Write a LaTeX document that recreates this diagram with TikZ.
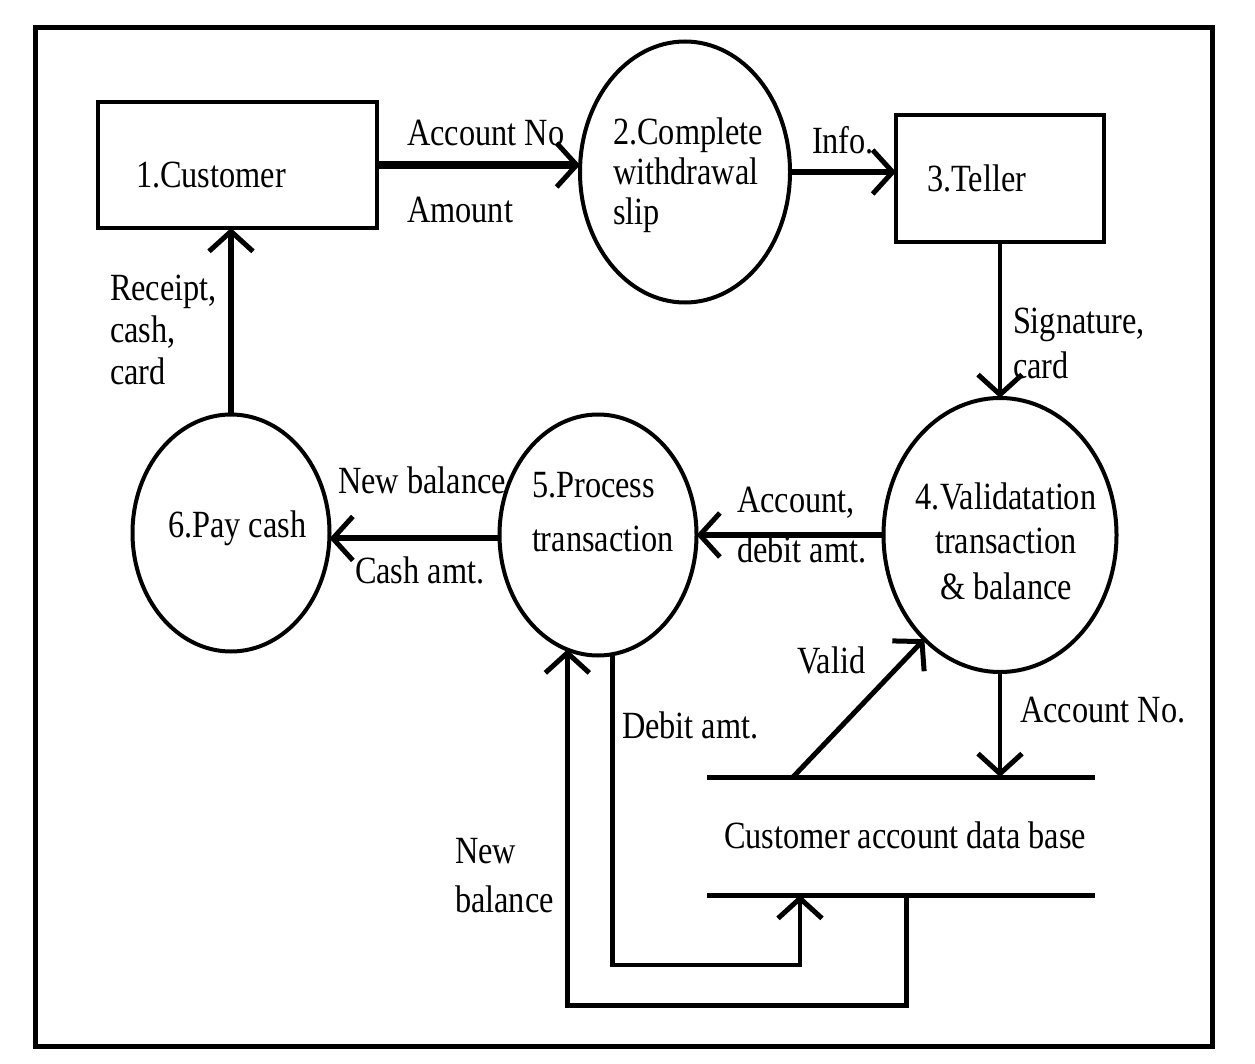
\documentclass[tikz,border=0pt]{standalone}
\usepackage{fontspec}
\setmainfont{Liberation Serif}[FakeStretch=0.84]
\usetikzlibrary{arrows.meta,shapes.geometric}
\begin{document}
\begin{tikzpicture}[x=1pt,y=-1pt,
  box/.style={draw, line width=4pt, rectangle, inner sep=0pt, outer sep=0pt},
  proc/.style={draw, line width=4pt, ellipse, inner sep=0pt, outer sep=0pt},
  txt/.style={inner sep=0pt, outer sep=0pt, font=\fontsize{38.5}{42}\selectfont},
  lbl/.style={txt, anchor=west, align=left},
  arr/.style={-{Straight Barb[length=20pt,width=44pt,line width=5pt]}},
  heavy/.style={arr, line width=8pt},
  thickflow/.style={arr, line width=6pt},
  medflow/.style={arr, line width=5pt},
  thinflow/.style={arr, line width=3.5pt},
  storeline/.style={line width=5pt}
]
\useasboundingbox (0,0) rectangle (1255,1064);
\fill[white] (0,0) rectangle (1255,1064);
% outer frame
\draw[line width=5pt] (35,28) rectangle (1212,1046);

% processes and entities
\node[box, minimum width=279pt, minimum height=126pt] (c1) at (237.5,165) {};
\node[proc, minimum width=210pt, minimum height=261pt] (p2) at (685,172) {};
\node[box, minimum width=208pt, minimum height=127pt] (t3) at (1000,178.5) {};
\node[proc, minimum width=233pt, minimum height=274pt] (p4) at (1000,535) {};
\node[proc, minimum width=197pt, minimum height=241pt] (p5) at (598,535) {};
\node[proc, minimum width=197pt, minimum height=237pt] (p6) at (231,533) {};

% data store
\coordinate (s1) at (707,777);
\coordinate (s2) at (1095,777);
\coordinate (s3) at (707,895);
\coordinate (s4) at (1095,895);
\draw[storeline] (s1) -- (s2);
\draw[storeline] (s3) -- (s4);

% texts inside shapes
\node[lbl] (t1) at (136,175) {1.Customer};
\node[lbl] (t2) at (613,175) {2.Complete\\[-2pt]withdrawal\\[-2pt]slip};
\node[lbl] (t3t) at (927,178) {3.Teller};
\node[txt, align=center] (t4) at (1006,541) {4.Validatation\\[2pt]transaction\\[4pt]\& balance};
\node[lbl] (t5) at (532,512) {5.Process\\[12pt]transaction};
\node[lbl] (t6) at (168,528) {6.Pay cash};
\node[txt] (tdb) at (905,835) {Customer account data base};

% flow labels
\node[lbl] (l1) at (407,133) {Account No};
\node[lbl] (l2) at (407,210) {Amount};
\node[lbl] (l3) at (812,140) {Info.};
\node[lbl] (l4) at (1013,343) {Signature,\\[3pt]card};
\node[lbl] (l5) at (110,330) {Receipt,\\cash,\\card};
\node[lbl] (l6) at (338,480) {New balance};
\node[lbl] (l7) at (355,570) {Cash amt.};
\node[lbl] (l8) at (737,525) {Account,\\[8pt]debit amt.};
\node[lbl] (l9) at (797,660) {Valid};
\node[lbl] (l10) at (1020,710) {Account No.};
\node[lbl] (l11) at (622,725) {Debit amt.};
\node[lbl] (l12) at (455,876) {New\\[7pt]balance};

% connectors
\draw[heavy] (c1.east) -- (c1.east -| p2.west);
\draw[thickflow] (p2.east) -- (p2.east -| t3.west);
\draw[thinflow] (t3.south) -- (p4.north);
\draw[thickflow] (p4.west) -- (p5.east);
\draw[thickflow] (p5.182) -- (p5.182 -| p6.east);
\draw[thickflow] (p6.north) -- (p6.north |- c1.south);
\draw[thinflow] (p4.south) -- (p4.south |- s1);
\coordinate (va) at (793,777);
\draw[medflow] (va) -- (p4.234);
\coordinate (db) at (800,965);
\draw[arr, line width=4.5pt] (p5.277) |- (db) -- (db |- s3);
\coordinate (nbs) at (906,895);
\coordinate (nbc) at (906,1005);
\draw[medflow] (nbs) -- (nbc) -| (p5.255);
\end{tikzpicture}
\end{document}
